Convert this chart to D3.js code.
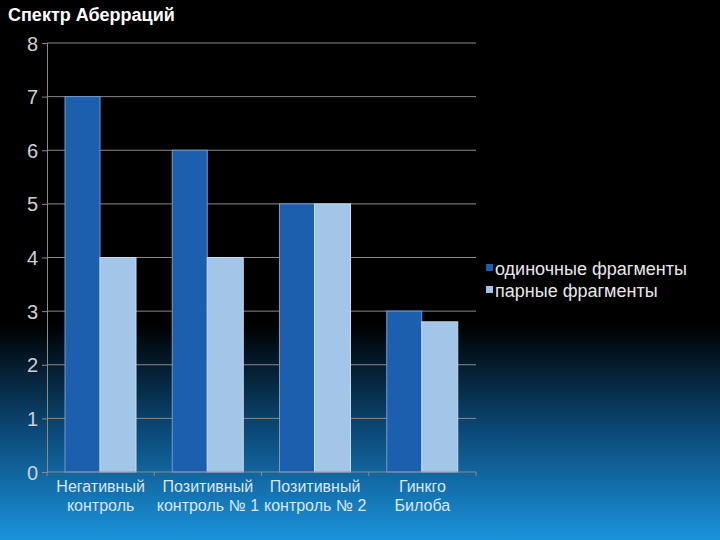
<!DOCTYPE html>
<html><head><meta charset="utf-8">
<script src="https://cdn.jsdelivr.net/npm/d3@7"></script>
<style>html,body{margin:0;padding:0;background:#000}svg{display:block}</style>
</head><body>
<svg id="c" width="720" height="540"></svg>
<script>
const categories = [["Негативный","контроль"],["Позитивный","контроль № 1"],["Позитивный","контроль № 2"],["Гинкго","Билоба"]];
const seriesNames = ["одиночные фрагменты","парные фрагменты"];
const single = [7, 6, 5, 3];
const paired = [4, 4, 5, 2.8];
const yTicks = [0,1,2,3,4,5,6,7,8];
const title = "Спектр Аберраций";

const svg = d3.select("#c");
const defs = svg.append("defs");
const g = defs.append("linearGradient").attr("id","bg").attr("x1",0).attr("y1",0).attr("x2",0).attr("y2",1);
g.append("stop").attr("offset","0").attr("stop-color","#000");
g.append("stop").attr("offset","0.6").attr("stop-color","#000");
g.append("stop").attr("offset","0.8").attr("stop-color","#0b4a78");
g.append("stop").attr("offset","1").attr("stop-color","#1b93dc");
svg.append("rect").attr("width",720).attr("height",540).attr("fill","url(#bg)");

const L=47,R=476,T=43,B=472;
const x = d3.scaleBand().domain(d3.range(categories.length)).range([L,R]).paddingInner(0).paddingOuter(0);
const y = d3.scaleLinear().domain([0,8]).range([B,T]);

// gridlines
svg.append("g").selectAll("line").data(yTicks.filter(d=>d>0)).join("line")
  .attr("x1",L).attr("x2",R).attr("y1",d=>y(d)).attr("y2",d=>y(d))
  .attr("stroke","#8a8a8a").attr("stroke-width",1);

// y axis
const ya = svg.append("g").attr("transform",`translate(${L},0)`).call(d3.axisLeft(y).tickValues(yTicks).tickSize(5).tickPadding(4).tickFormat(d3.format("d")));
ya.select(".domain").attr("stroke","#8a8a8a");
ya.selectAll(".tick line").attr("stroke","#8a8a8a");
ya.selectAll("text").attr("fill","#d0d0d0").attr("font-family","Liberation Sans, Arial, sans-serif").attr("font-size",20).attr("dy","0.35em");

// bars
const bw = 35, off = 18;
const bars = svg.append("g");
bars.selectAll(".s").data(single).join("rect")
  .attr("x",(d,i)=>x(i)+off).attr("y",d=>y(d)).attr("width",bw).attr("height",d=>B-y(d))
  .attr("fill","#1c5fae").attr("stroke","#6f9bd0").attr("stroke-width",1);
bars.selectAll(".p").data(paired).join("rect")
  .attr("x",(d,i)=>x(i)+off+bw).attr("y",d=>y(d)).attr("width",bw+1).attr("height",d=>B-y(d))
  .attr("fill","#a3c5e8").attr("stroke","#c6dbf1").attr("stroke-width",1);

// x axis
const xa = svg.append("g").attr("transform",`translate(0,${B})`);
xa.append("line").attr("x1",L).attr("x2",R).attr("stroke","#8a8a8a");
xa.selectAll(".t").data(d3.range(categories.length+1)).join("line")
  .attr("x1",i=>L+i*x.bandwidth()).attr("x2",i=>L+i*x.bandwidth()).attr("y1",0).attr("y2",4).attr("stroke","#8a8a8a");
const lbl = xa.selectAll(".l").data(categories).join("text")
  .attr("x",(d,i)=>x(i)+x.bandwidth()/2).attr("y",20)
  .attr("text-anchor","middle").attr("fill","#d8e6f2")
  .attr("font-family","Liberation Sans, Arial, sans-serif").attr("font-size",16);
lbl.selectAll("tspan").data(d=>d).join("tspan").attr("x",function(){return this.parentNode.getAttribute("x");})
  .attr("dy",(d,i)=>i?"1.2em":0).text(d=>d);

// legend
const colors = ["#1c5fae","#a3c5e8"];
const lg = svg.append("g").attr("transform","translate(486,262)");
seriesNames.forEach((n,i)=>{
  lg.append("rect").attr("x",0).attr("y",i*22+2).attr("width",7).attr("height",7).attr("fill",colors[i]);
  lg.append("text").attr("x",9).attr("y",i*22+13).attr("fill","#e8e8e8")
    .attr("font-family","Liberation Sans, Arial, sans-serif").attr("font-size",18).text(n);
});

svg.append("text").attr("x",8).attr("y",21).attr("fill","#fff").attr("font-weight","bold")
  .attr("font-family","Liberation Sans, Arial, sans-serif").attr("font-size",18).text(title);
</script>
</body></html>
